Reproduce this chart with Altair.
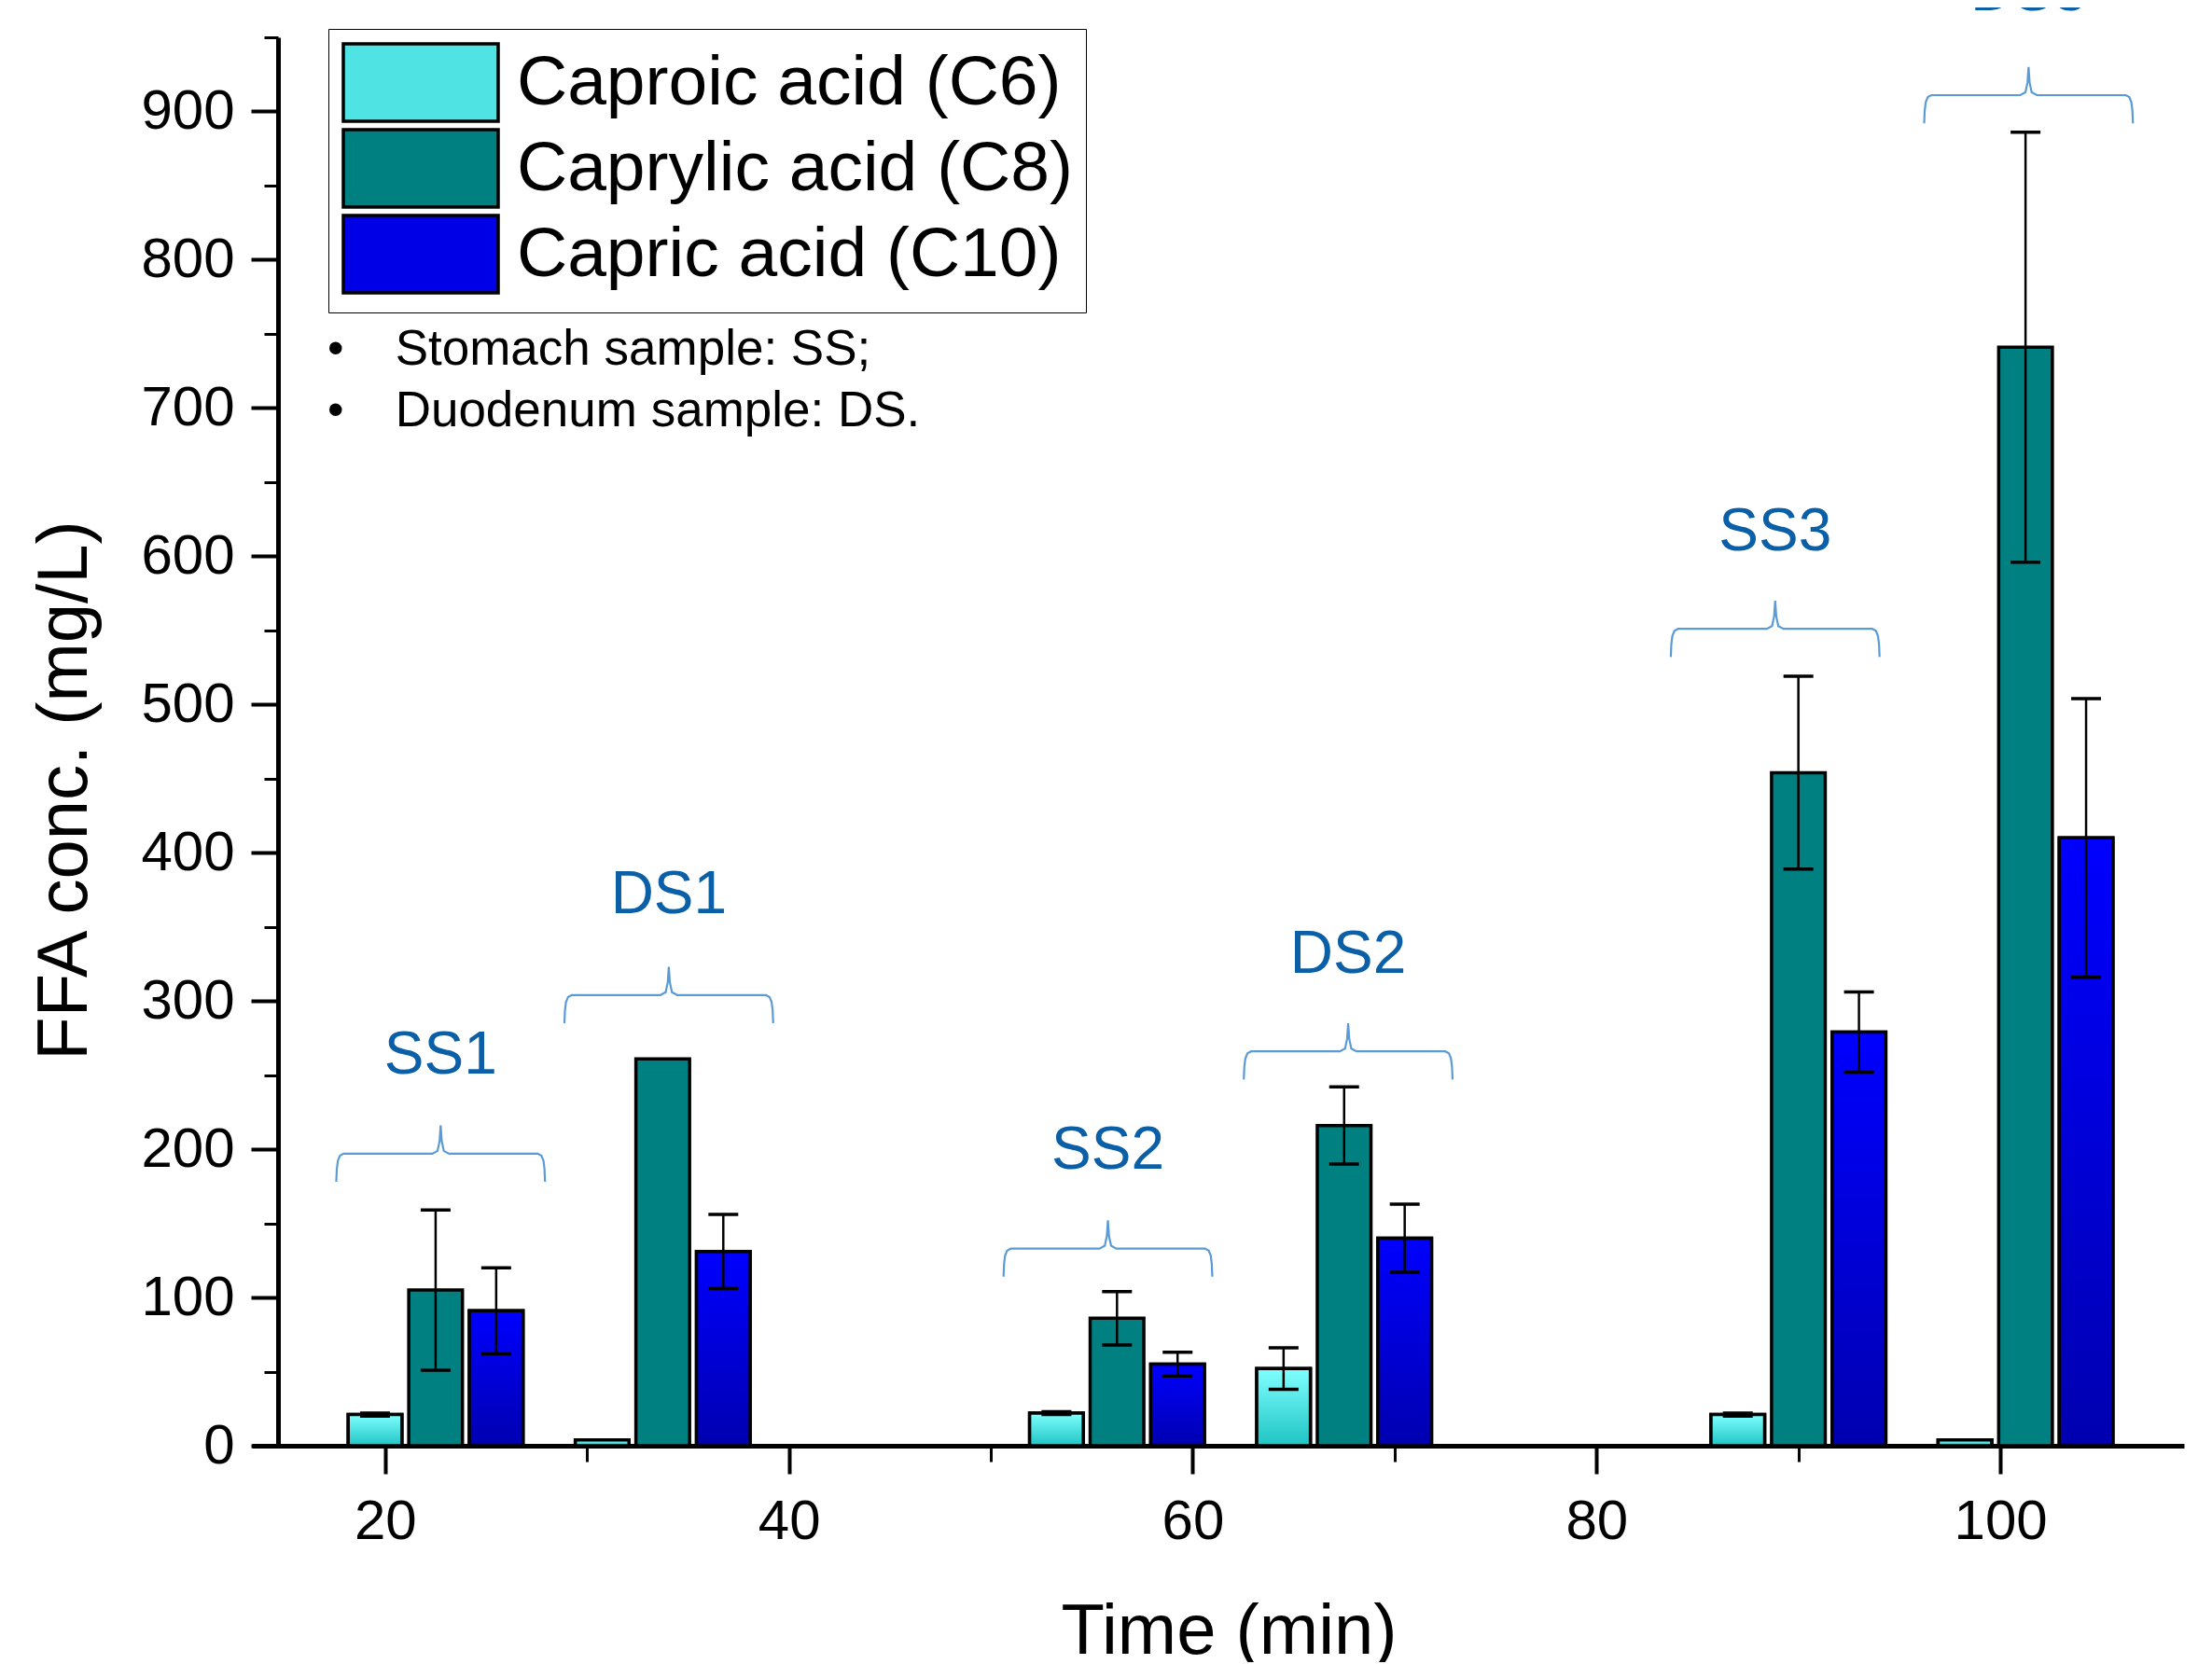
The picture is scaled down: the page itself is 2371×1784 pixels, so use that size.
import altair as alt
import pandas as pd

# ---------------- data ----------------
groups = ["SS1", "DS1", "SS2", "DS2", "SS3", "DS3"]
times = [22.5, 33.75, 56.25, 67.5, 90.0, 101.25]
acids = ["Caproic acid (C6)", "Caprylic acid (C8)", "Capric acid (C10)"]
c6 = [21, 4, 22, 52, 21, 4]
c6_err = [1, 0, 1, 14, 1, 0]
c8 = [105, 261, 86, 216, 454, 741]
c8_err = [54, 0, 18, 26, 65, 145]
c10 = [91, 131, 55, 140, 279, 410]
c10_err = [29, 25, 8, 23, 27, 94]

brace_x = [22.75, 34.05, 55.8, 67.7, 88.85, 101.4]
brace_y = [197, 304, 133, 266, 551, 911]
label_y = [263, 371, 199, 331, 616, 980]

notes = ["Stomach sample: SS;", "Duodenum sample: DS."]
note_y = [739, 698]

y_ticks = [0, 100, 200, 300, 400, 500, 600, 700, 800, 900]
y_minor = [50, 150, 250, 350, 450, 550, 650, 750, 850, 950]
x_ticks = [20, 40, 60, 80, 100]
x_minor = [30, 50, 70, 90]

FONT = "Liberation Sans"

# ---------------- tables ----------------
rows = []
for vals, errs, k in [(c6, c6_err, 0), (c8, c8_err, 1), (c10, c10_err, 2)]:
    for g, t, v, e in zip(groups, times, vals, errs):
        rows.append({"group": g, "time": t, "acid": acids[k], "k": k, "value": v, "err": e})
bars_df = pd.DataFrame(rows)

# brace outline (unit shape, scaled to each brace)
shape = [(-1.0, -1.0), (-0.995, -0.55), (-0.985, -0.25), (-0.965, -0.07), (-0.93, 0.0),
         (-0.08, 0.0), (-0.03, 0.1), (-0.01, 0.45), (0.0, 1.0), (0.01, 0.45), (0.03, 0.1),
         (0.08, 0.0), (0.93, 0.0), (0.965, -0.07), (0.985, -0.25), (0.995, -0.55), (1.0, -1.0)]
brace_rows = []
for g, bx, by in zip(groups, brace_x, brace_y):
    for i, (dx, dy) in enumerate(shape):
        brace_rows.append({"brace": g, "ord": i, "bx": bx + dx * 5.17, "by": by + dy * 19})
brace_df = pd.DataFrame(brace_rows)
label_df = pd.DataFrame({"group": groups, "x": brace_x, "y": label_y})
notes_df = pd.DataFrame({"note": notes, "y": note_y})

# ---------------- scales / axes ----------------
xscale = alt.Scale(domain=[13.4, 109.1], nice=False, zero=False)
yscale = alt.Scale(domain=[0, 950], nice=False)

x_axis = alt.Axis(values=x_ticks, title="Time (min)", tickSize=30, tickWidth=4,
                  domainWidth=5, labelFontSize=60, labelPadding=22, titleFontSize=76,
                  titlePadding=51, grid=False, orient="bottom", labelFont=FONT,
                  titleFont=FONT, titleFontWeight="normal", titleX=1047)
y_axis = alt.Axis(values=y_ticks, title="FFA conc. (mg/L)", tickSize=29, tickWidth=4,
                  domainWidth=5, labelFontSize=60, labelPadding=18, titleFontSize=76,
                  titlePadding=42, grid=False, orient="left", offset=-28, labelFont=FONT,
                  titleFont=FONT, titleFontWeight="normal", titleY=807)
x_minor_axis = alt.Axis(values=x_minor, title=None, tickSize=17, tickWidth=3, domain=False,
                        labels=False, grid=False, orient="bottom")
y_minor_axis = alt.Axis(values=y_minor, title=None, tickSize=15, tickWidth=3, domain=False,
                        labels=False, grid=False, orient="left", offset=-28)

base = alt.Chart(bars_df).transform_calculate(
    xc="datum.time + (datum.k - 1) * 3",
    x0="datum.time + (datum.k - 1) * 3 - 1.33",
    x1="datum.time + (datum.k - 1) * 3 + 1.33",
    lo="datum.value - datum.err",
    hi="datum.value + datum.err",
)

bars = base.mark_bar(stroke="black", strokeWidth=3.5, opacity=1).encode(
    x=alt.X("x0:Q", scale=xscale, axis=x_axis),
    x2="x1:Q",
    y=alt.Y("value:Q", scale=yscale, axis=y_axis),
    y2=alt.datum(0),
    color=alt.Color(
        "acid:N",
        scale=alt.Scale(domain=acids, range=["#4FE3E3", "#008080", "#0000E6"]),
        legend=alt.Legend(
            title=None, orient="none", legendX=82, legendY=-9,
            symbolType="M-1,-1H3V1H-1Z", symbolSize=6889,
            symbolStrokeColor="black", symbolStrokeWidth=3.5, symbolOpacity=1,
            labelFontSize=75, labelFont=FONT, labelColor="black", labelOffset=101,
            labelLimit=0, rowPadding=-5, padding=14, strokeColor="black",
            fillColor="white",
        ),
    ),
)

grad_c6 = {"gradient": "linear", "x1": 0, "y1": 0, "x2": 0, "y2": 1,
           "stops": [{"offset": 0, "color": "#80FFFF"}, {"offset": 1, "color": "#1FC4C4"}]}
grad_c10 = {"gradient": "linear", "x1": 0, "y1": 0, "x2": 0, "y2": 1,
            "stops": [{"offset": 0, "color": "#0000FF"}, {"offset": 1, "color": "#0000B0"}]}

over_c6 = base.transform_filter(alt.datum.k == 0).mark_bar(
    fill=grad_c6, stroke="black", strokeWidth=3.5).encode(
    x=alt.X("x0:Q", scale=xscale, axis=x_minor_axis),
    x2="x1:Q",
    y=alt.Y("value:Q", scale=yscale, axis=y_minor_axis),
    y2=alt.datum(0),
)
over_c10 = base.transform_filter(alt.datum.k == 2).mark_bar(
    fill=grad_c10, stroke="black", strokeWidth=3.5).encode(
    x=alt.X("x0:Q", scale=xscale, axis=None),
    x2="x1:Q",
    y=alt.Y("value:Q", scale=yscale, axis=None),
    y2=alt.datum(0),
)

err_base = base.transform_filter(alt.datum.err > 0)
err_rule = err_base.mark_rule(color="black", strokeWidth=2.5).encode(
    x=alt.X("xc:Q", scale=xscale, axis=None),
    y=alt.Y("lo:Q", scale=yscale, axis=None),
    y2="hi:Q",
)
cap_lo = err_base.mark_tick(color="black", orient="horizontal", size=32, thickness=3.5, opacity=1).encode(
    x=alt.X("xc:Q", scale=xscale, axis=None),
    y=alt.Y("lo:Q", scale=yscale, axis=None),
)
cap_hi = err_base.mark_tick(color="black", orient="horizontal", size=32, thickness=3.5, opacity=1).encode(
    x=alt.X("xc:Q", scale=xscale, axis=None),
    y=alt.Y("hi:Q", scale=yscale, axis=None),
)

braces = alt.Chart(brace_df).mark_line(color="#5B9BD5", strokeWidth=2.2).encode(
    x=alt.X("bx:Q", scale=xscale, axis=None),
    y=alt.Y("by:Q", scale=yscale, axis=None),
    detail="brace:N",
    order="ord:Q",
)
labels = alt.Chart(label_df).mark_text(fontSize=64, font=FONT, color="#0A5FA6",
                                       baseline="middle", align="center").encode(
    x=alt.X("x:Q", scale=xscale, axis=None),
    y=alt.Y("y:Q", scale=yscale, axis=None),
    text="group:N",
)
bullets = alt.Chart(notes_df).transform_calculate(bx="17.55").mark_text(
    text="•", fontSize=50, font=FONT, color="black", baseline="middle", align="center").encode(
    x=alt.X("bx:Q", scale=xscale, axis=None),
    y=alt.Y("y:Q", scale=yscale, axis=None),
)
note_text = alt.Chart(notes_df).transform_calculate(tx="20.5").mark_text(
    fontSize=53, font=FONT, color="black", baseline="middle", align="left").encode(
    x=alt.X("tx:Q", scale=xscale, axis=None),
    y=alt.Y("y:Q", scale=yscale, axis=None),
    text="note:N",
)

chart = alt.layer(
    bars, over_c6, over_c10, err_rule, cap_lo, cap_hi, braces, labels, bullets, note_text
).resolve_axis(x="independent", y="independent").properties(
    width=2071, height=1510,
    autosize=alt.AutoSizeParams(type="none"),
    padding={"left": 262, "top": 32, "right": 14, "bottom": 232},
    background="white",
).configure_view(stroke=None).configure_axis(
    domainColor="black", tickColor="black", labelColor="black", titleColor="black"
)

chart.save("out.html", embed_options={"renderer": "svg", "actions": False})
